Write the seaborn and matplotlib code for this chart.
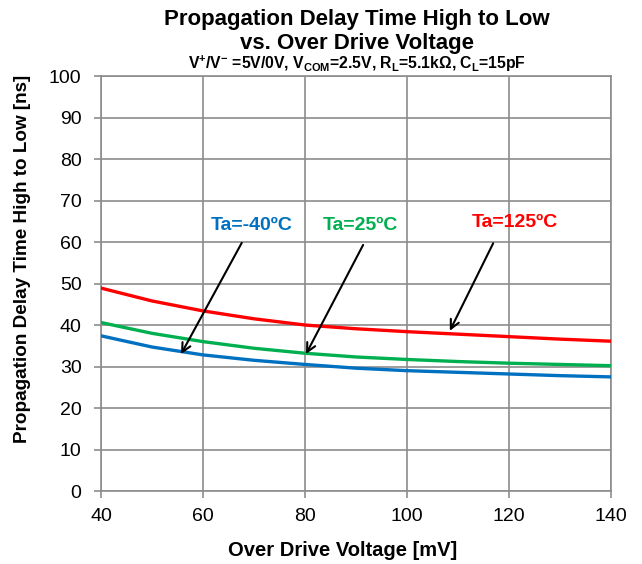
import matplotlib
matplotlib.use("Agg")
import matplotlib.pyplot as plt
import seaborn as sns
import pandas as pd

# Over drive voltage (mV) and propagation delay (ns) per ambient temperature
overdrive_mv = [40, 50, 60, 70, 80, 90, 100, 110, 120, 130, 140]
delay_m40 = [37.4, 34.7, 32.8, 31.5, 30.5, 29.6, 29.0, 28.6, 28.2, 27.8, 27.5]
delay_25 = [40.6, 38.0, 36.0, 34.4, 33.2, 32.3, 31.7, 31.2, 30.8, 30.5, 30.2]
delay_125 = [48.9, 45.8, 43.4, 41.5, 40.0, 39.1, 38.4, 37.8, 37.2, 36.6, 36.1]

series_labels = ["Ta=-40ºC", "Ta=25ºC", "Ta=125ºC"]
series_colors = ["#0070C0", "#00B050", "#FF0000"]

x_ticks = [40, 60, 80, 100, 120, 140]
y_ticks = [0, 10, 20, 30, 40, 50, 60, 70, 80, 90, 100]

rows = []
for label, values in zip(series_labels, [delay_m40, delay_25, delay_125]):
    for x, y in zip(overdrive_mv, values):
        rows.append({"Over Drive Voltage [mV]": x, "Delay [ns]": y, "Series": label})
df = pd.DataFrame(rows)

sns.set_style("white")
plt.rcParams["font.family"] = ["Liberation Sans", "DejaVu Sans"]
plt.rcParams["text.color"] = "black"
plt.rcParams["axes.labelcolor"] = "black"
plt.rcParams["xtick.labelcolor"] = "black"
plt.rcParams["ytick.labelcolor"] = "black"
plt.rcParams["mathtext.fontset"] = "custom"
plt.rcParams["mathtext.rm"] = "Liberation Sans:bold"
plt.rcParams["mathtext.it"] = "Liberation Sans:bold"
plt.rcParams["mathtext.bf"] = "Liberation Sans:bold"

fig = plt.figure(figsize=(6.42, 5.64), dpi=100)
ax = fig.add_axes([0.1573, 0.1294, 0.7944, 0.7358])

sns.lineplot(data=df, x="Over Drive Voltage [mV]", y="Delay [ns]", hue="Series",
             hue_order=series_labels, palette=series_colors, linewidth=2.4,
             legend=False, ax=ax, zorder=3)

grid_color = "#8C8C8C"
ax.set_xlim(40, 140)
ax.set_ylim(0, 100)
ax.set_xticks(x_ticks)
ax.set_yticks(y_ticks)
ax.grid(True, color=grid_color, linewidth=1.2)
for s in ax.spines.values():
    s.set_color(grid_color)
    s.set_linewidth(1.2)
ax.tick_params(axis="both", direction="out", length=5, width=1.2, color=grid_color,
               labelsize=14, labelcolor="black", bottom=True, left=True)
ax.tick_params(axis="y", pad=9)
ax.tick_params(axis="x", pad=7)

ax.set_xlabel("Over Drive Voltage [mV]", fontsize=14.5, fontweight="bold", color="black")
ax.set_ylabel("Propagation Delay Time High to Low [ns]", fontsize=13.6, fontweight="bold",
              color="black")
ax.xaxis.set_label_coords(0.474, -0.12)
ax.yaxis.set_label_coords(-0.137, 0.559)

fig.text(0.556, 0.966, "Propagation Delay Time High to Low", ha="center", va="center",
         fontsize=16, fontweight="bold", color="black")
fig.text(0.556, 0.923, "vs. Over Drive Voltage", ha="center", va="center",
         fontsize=16, fontweight="bold", color="black")
fig.text(0.556, 0.887,
         r"V$^{+}$/V$^{-}$ =5V/0V, V$_{COM}$=2.5V, R$_{L}$=5.1kΩ, C$_{L}$=15pF",
         ha="center", va="center", fontsize=11.3, fontweight="bold", color="black")

# Series labels with arrows pointing to each curve
label_pos = [(69.6, 64.1), (90.8, 64.1), (121.2, 64.6)]
arrow_tail = [(67.6, 59.8), (91.4, 59.3), (116.9, 59.7)]
arrow_head = [(55.7, 33.0), (80.2, 33.0), (108.4, 38.6)]
for label, color, lp, tail, head in zip(series_labels, series_colors, label_pos, arrow_tail, arrow_head):
    ax.text(lp[0], lp[1], label, color=color, fontsize=14, fontweight="bold",
            ha="center", va="center", zorder=5)
    ax.annotate("", xy=head, xytext=tail,
                arrowprops=dict(arrowstyle="->", color="black", lw=1.5,
                                mutation_scale=16, shrinkA=0, shrinkB=0),
                zorder=4)

fig.savefig("out.png", dpi=100)
